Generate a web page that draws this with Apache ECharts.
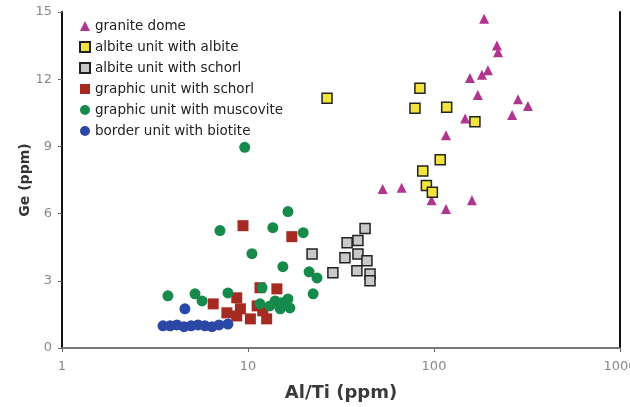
<!DOCTYPE html>
<html>
<head>
<meta charset="utf-8">
<script src="https://cdn.jsdelivr.net/npm/echarts@6/dist/echarts.min.js"></script>
<style>html,body{margin:0;padding:0;background:#fff}#c{width:630px;height:407px}</style>
</head>
<body>
<div id="c"></div>
<script>
const seriesNames = ["granite dome","albite unit with albite","albite unit with schorl","graphic unit with schorl","graphic unit with muscovite","border unit with biotite"];
const xTickLabels = [1, 10, 100, 1000];
const yTickLabels = [0, 3, 6, 9, 12, 15];

// [Al/Ti, Ge]
const graniteDome = [[186,14.7],[218,13.5],[221,13.2],[195,12.4],[181,12.2],[156,12.05],[172,11.3],[283,11.1],[320,10.8],[263,10.4],[147,10.25],[116,9.5],[53,7.1],[67,7.15],[97,6.6],[160,6.6],[116,6.2]];
const albiteAlbite = [[26.6,11.15],[84,11.6],[79,10.7],[117,10.75],[166,10.1],[108,8.4],[87,7.9],[91,7.25],[98,6.95]];
const albiteSchorl = [[42.6,5.33],[34.1,4.7],[39,4.8],[22.1,4.2],[33.2,4.03],[39,4.2],[43.6,3.9],[28.6,3.36],[38.5,3.45],[45.3,3.3],[45.3,3.0]];
const graphicSchorl = [[9.4,5.46],[17.2,4.97],[6.5,1.97],[7.7,1.57],[8.7,2.24],[9.1,1.75],[8.7,1.43],[11.6,2.69],[14.3,2.64],[11.2,1.88],[12.6,1.3],[12.0,1.66],[10.3,1.3]];
const graphicMuscovite = [[9.6,8.96],[7.07,5.24],[10.5,4.21],[3.71,2.33],[5.19,2.42],[5.66,2.1],[7.8,2.46],[16.4,6.09],[13.6,5.37],[19.8,5.15],[15.4,3.63],[21.3,3.4],[23.5,3.13],[22.4,2.42],[11.9,2.69],[14.0,2.1],[15.2,2.02],[16.4,2.19],[14.9,1.75],[13.1,1.88],[16.8,1.79],[11.6,1.97]];
const borderBiotite = [[4.58,1.75],[3.49,0.99],[3.81,0.99],[4.15,1.03],[4.53,0.95],[4.94,0.99],[5.39,1.03],[5.87,0.99],[6.4,0.95],[6.98,1.03],[7.8,1.07]];

const chart = echarts.init(document.getElementById('c'));
const FONT = 'DejaVu Sans, Arial, sans-serif';
const styles = [
  {symbol:'triangle', size:10, color:'#b0358f', border:null},
  {symbol:'rect', size:10, color:'#f2e43c', border:'#222'},
  {symbol:'rect', size:10, color:'#c9c9c9', border:'#222'},
  {symbol:'rect', size:11, color:'#a52a22', border:null},
  {symbol:'circle', size:11, color:'#168a4b', border:null},
  {symbol:'circle', size:11, color:'#2b48a6', border:null}
];
const data = [graniteDome, albiteAlbite, albiteSchorl, graphicSchorl, graphicMuscovite, borderBiotite];

chart.setOption({
  animation:false,
  backgroundColor:'#fff',
  grid:{left:62, right:10, top:12, bottom:59, show:false, containLabel:false, outerBoundsMode:'none'},
  legend:{
    orient:'vertical', left:74, top:14, itemGap:7, itemWidth:10, itemHeight:10,
    textStyle:{fontSize:13.5, color:'#222', fontFamily:FONT},
    data: seriesNames.map(n=>({name:n}))
  },
  xAxis:[{
    type:'log', logBase:10, min:1, max:1000,
    name:'Al/Ti (ppm)', nameLocation:'middle', nameGap:36, nameMoveOverlap:false,
    nameTextStyle:{fontSize:18, color:'#3a3a3a', fontWeight:'bold', fontFamily:FONT},
    axisLine:{lineStyle:{color:'#111', width:2}},
    axisTick:{show:true, length:4, lineStyle:{color:'#666'}},
    minorTick:{show:false},
    splitLine:{show:false},
    axisLabel:{color:'#888', fontSize:13, margin:12, fontFamily:FONT,
      formatter:v=>{const t=xTickLabels.find(x=>Math.abs(x-v)<1e-6*x);return t!==undefined?String(t):'';}}
  },{
    type:'log', logBase:10, min:1, max:1000, position:'top',
    axisLine:{lineStyle:{color:'#999', width:1.5}}, axisTick:{show:false}, axisLabel:{show:false}, splitLine:{show:false}
  }],
  yAxis:[{
    type:'value', min:0, max:15, interval:3,
    name:'Ge (ppm)', nameLocation:'middle', nameGap:30, nameMoveOverlap:false,
    nameTextStyle:{fontSize:14, color:'#333', fontWeight:'bold', fontFamily:FONT},
    axisLine:{show:true, lineStyle:{color:'#111', width:2}},
    axisTick:{show:true, length:4, lineStyle:{color:'#666'}},
    splitLine:{show:false},
    axisLabel:{color:'#888', fontSize:13, margin:10, fontFamily:FONT,
      formatter:v=>yTickLabels.includes(v)?String(v):''}
  },{
    type:'value', min:0, max:15, position:'right',
    axisLine:{show:true, lineStyle:{color:'#111', width:2}}, axisTick:{show:false}, axisLabel:{show:false}, splitLine:{show:false}
  }],
  series: seriesNames.map((n,i)=>({
    name:n, type:'scatter', xAxisIndex:0, yAxisIndex:0,
    symbol:styles[i].symbol, symbolSize:styles[i].size,
    itemStyle:{color:styles[i].color, opacity:1, borderColor:styles[i].border||styles[i].color, borderWidth:styles[i].border?1.5:0},
    data:data[i]
  }))
});
</script>
</body>
</html>
